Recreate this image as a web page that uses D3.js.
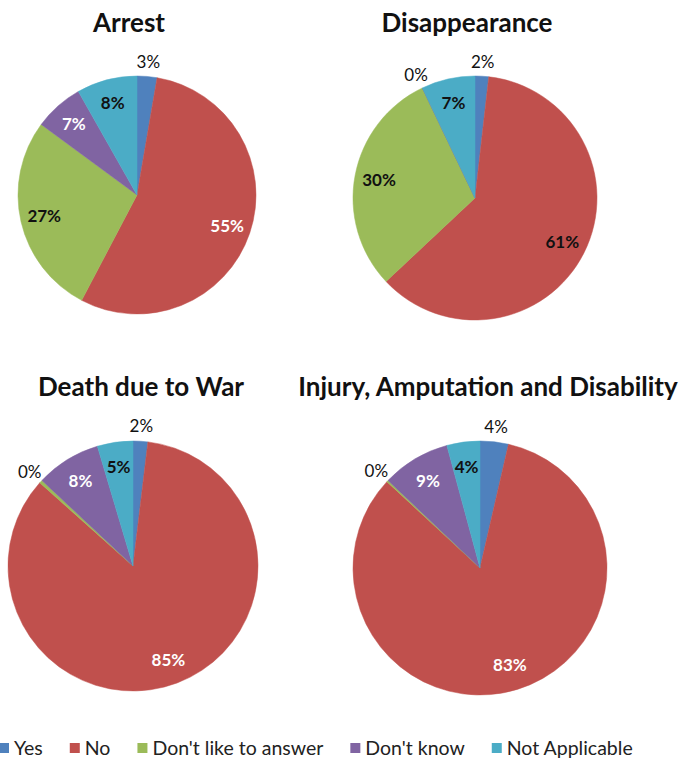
<!DOCTYPE html>
<html>
<head>
<meta charset="utf-8">
<script src="https://cdn.jsdelivr.net/npm/d3@7"></script>
<style>
  body { margin: 0; background: #fff; }
  svg { display: block; font-family: Lato, "Open Sans", sans-serif; }
</style>
</head>
<body>
<svg id="chart" width="683" height="764"></svg>
<script>
"use strict";

// categories, in the order Excel draws them (clockwise from 12 o'clock)
var categories = ["Yes", "No", "Don't like to answer", "Don't know", "Not Applicable"];

// percent of answers for each question
var arrestValues        = [2.7, 55.0, 27.4, 6.7, 8.2];
var disappearanceValues = [1.8, 61.2, 29.9, 0.0, 7.1];
var deathValues         = [1.9, 84.7, 0.4, 8.4, 4.6];
var injuryValues        = [3.6, 83.3, 0.2, 8.7, 4.2];

var titles = ["Arrest", "Disappearance", "Death due to War", "Injury, Amputation and Disability"];

var colors = d3.scaleOrdinal()
  .domain(categories)
  .range(["#4f81bd", "#c0504d", "#9bbb59", "#8064a2", "#4bacc6"]);

// where every pie sits on the page
var charts = [
  { title: titles[0], values: arrestValues,        cx: 137, cy: 195, r: 119, tx: 129, ty: 32,  redText: "#fff" },
  { title: titles[1], values: disappearanceValues, cx: 475, cy: 198, r: 122, tx: 467, ty: 32,  redText: "#111" },
  { title: titles[2], values: deathValues,         cx: 133, cy: 566, r: 125, tx: 141, ty: 396, redText: "#fff" },
  { title: titles[3], values: injuryValues,        cx: 480, cy: 568, r: 127, tx: 488, ty: 396, redText: "#fff" }
];

var svg = d3.select("#chart");

var pie = d3.pie().sort(null).value(function(d) { return d.value; });

charts.forEach(function(c) {
  var data = c.values.map(function(v, i) { return { name: categories[i], value: v }; });
  var arcs = pie(data);

  var arc = d3.arc().innerRadius(0).outerRadius(c.r);
  var inLabel = d3.arc().innerRadius(c.r * 0.8).outerRadius(c.r * 0.8);
  var outLabel = d3.arc().innerRadius(c.r * 1.12).outerRadius(c.r * 1.12);

  var g = svg.append("g").attr("transform", "translate(" + c.cx + "," + c.cy + ")");

  g.selectAll("path")
    .data(arcs)
    .enter()
    .append("path")
    .attr("d", arc)
    .style("fill", function(d) { return colors(d.data.name); })
    .style("stroke", function(d) { return colors(d.data.name); })
    .style("stroke-width", 0.5);

  g.selectAll("text")
    .data(arcs)
    .enter()
    .append("text")
    .attr("transform", function(d) {
      var p = d.data.value >= 4 ? inLabel.centroid(d) : outLabel.centroid(d);
      return "translate(" + p + ")";
    })
    .attr("text-anchor", "middle")
    .attr("dy", "0.36em")
    .style("font-size", "17px")
    .style("font-weight", function(d) { return d.data.value >= 4 ? "bold" : "normal"; })
    .style("fill", function(d) {
      if (d.data.value < 4) return "#111";
      if (d.data.name == "No") return c.redText;
      if (d.data.name == "Don't know") return "#fff";
      return "#111";
    })
    .text(function(d) { return Math.round(d.data.value) + "%"; });

  svg.append("text")
    .attr("x", c.tx)
    .attr("y", c.ty)
    .attr("text-anchor", "middle")
    .style("font-size", "26px")
    .style("font-weight", "bold")
    .style("fill", "#111")
    .text(c.title);
});

// legend along the bottom
var legend = svg.append("g").attr("transform", "translate(-1,748)");
var lx = 0;
categories.forEach(function(name) {
  var item = legend.append("g").attr("transform", "translate(" + lx + ",0)");
  item.append("rect")
    .attr("x", 0).attr("y", -5)
    .attr("width", 10).attr("height", 10)
    .style("fill", colors(name));
  var t = item.append("text")
    .attr("x", 15).attr("y", 6.5)
    .style("font-size", "19.5px")
    .style("fill", "#222")
    .text(name);
  lx += 15 + t.node().getComputedTextLength() + 27;
});
</script>
</body>
</html>
